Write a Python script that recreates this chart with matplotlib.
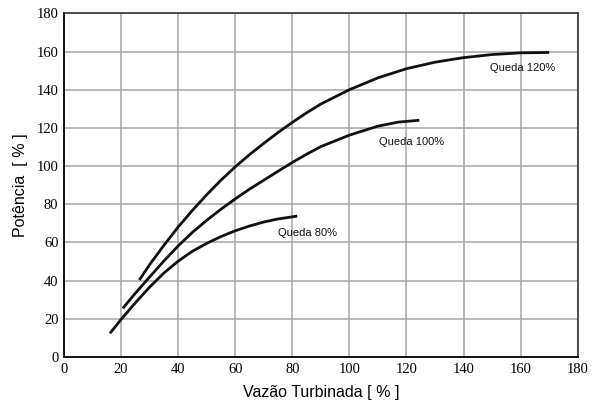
import matplotlib; matplotlib.use('Agg')
import matplotlib.pyplot as plt

plt.rcParams['font.family'] = 'Liberation Serif'

# --- data (vazao %, potencia %)
q120_x = [26.4, 30, 35, 40, 45, 50, 55, 60, 65, 70, 75, 80, 85, 90, 100, 110, 120, 130, 140, 150, 160, 170]
q120_y = [40.3, 48.4, 58.5, 68.1, 76.8, 85, 92.6, 99.6, 106, 111.9, 117.6, 122.9, 127.9, 132.5, 140, 146.2, 151, 154.4, 156.8, 158.4, 159.3, 159.5]

q100_x = [20.6, 25, 30, 35, 40, 45, 50, 55, 60, 65, 70, 75, 80, 85, 90, 100, 110, 117, 124.5]
q100_y = [25.5, 33.4, 41.9, 50.3, 58.2, 65.3, 71.6, 77.4, 82.8, 87.9, 92.6, 97.3, 101.9, 106.2, 110.2, 116.2, 120.9, 123, 124]

q80_x = [16.1, 20, 25, 30, 35, 40, 45, 50, 55, 60, 65, 70, 75, 81.7]
q80_y = [12.4, 19.7, 28.4, 36.6, 44, 50.2, 55.4, 59.5, 63.1, 66.1, 68.6, 70.7, 72.3, 73.8]

labels = ['Queda 120%', 'Queda 100%', 'Queda 80%']
label_pos = [(149.3, 151.6), (110.5, 112.7), (74.9, 65.2)]

ticks = list(range(0, 181, 20))

# --- plot
fig = plt.figure(figsize=(6.04, 4.11), dpi=100, facecolor='w')
ax = fig.add_axes([0.106, 0.1314, 0.8505, 0.8362])

for xs, ys in [(q120_x, q120_y), (q100_x, q100_y), (q80_x, q80_y)]:
    ax.plot(xs, ys, color='#111111', lw=2.0, solid_capstyle='butt', solid_joinstyle='round', zorder=3)

for txt, (tx, ty) in zip(labels, label_pos):
    ax.text(tx, ty, txt, fontsize=8, family='Liberation Sans', va='center', ha='left', color='#111111')

ax.set_xlim(0, 180)
ax.set_ylim(0, 180)
ax.set_xticks(ticks)
ax.set_yticks(ticks)
ax.grid(True, color='#a6a6a6', lw=1.1)
ax.set_axisbelow(True)
ax.tick_params(length=0, pad=4, labelsize=10.5)

for side in ['left', 'bottom']:
    ax.spines[side].set_linewidth(1.4)
    ax.spines[side].set_color('#111111')
for side in ['top', 'right']:
    ax.spines[side].set_linewidth(1.2)
    ax.spines[side].set_color('#333333')

ax.set_xlabel('Vazão Turbinada [ % ]', fontsize=11.5, family='Liberation Sans', labelpad=7)
ax.set_ylabel('Potência  [ % ]', fontsize=11.5, family='Liberation Sans', labelpad=6)

plt.savefig('out.png', dpi=100)
